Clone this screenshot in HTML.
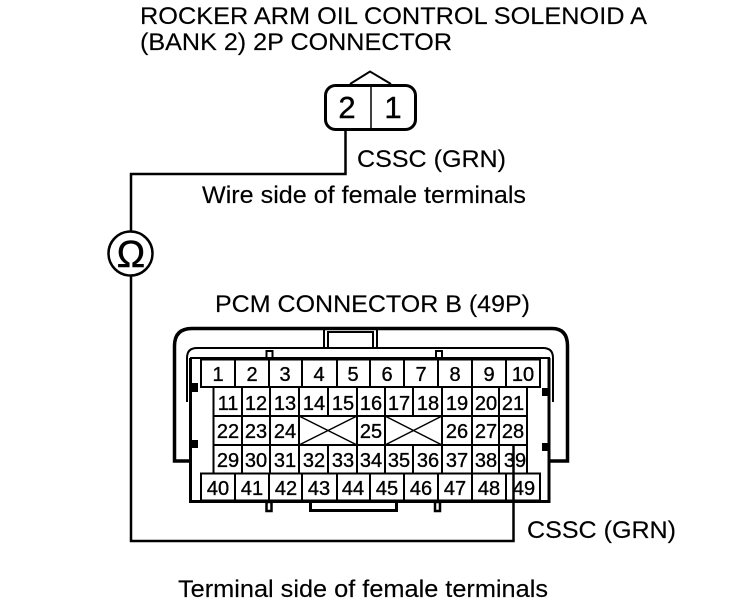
<!DOCTYPE html>
<html><head><meta charset="utf-8"><style>
html,body{margin:0;padding:0;background:#fff}
svg{display:block}
text{font-family:"Liberation Sans",sans-serif;fill:#000}
.t{font-size:24px;stroke:#000;stroke-width:.15px}
.n{font-size:20px;text-anchor:middle;stroke:#000;stroke-width:.35px}
</style></head><body>
<svg width="752" height="608" viewBox="0 0 752 608" xmlns="http://www.w3.org/2000/svg">
<text class="t" x="140" y="24" textLength="507" lengthAdjust="spacingAndGlyphs">ROCKER ARM OIL CONTROL SOLENOID A</text>
<text class="t" x="140" y="50" textLength="312" lengthAdjust="spacingAndGlyphs">(BANK 2) 2P CONNECTOR</text>
<text class="t" x="357" y="167" textLength="149" lengthAdjust="spacingAndGlyphs">CSSC (GRN)</text>
<text class="t" x="202" y="203" textLength="324" lengthAdjust="spacingAndGlyphs">Wire side of female terminals</text>
<text class="t" x="215" y="312" textLength="315" lengthAdjust="spacingAndGlyphs">PCM CONNECTOR B (49P)</text>
<text class="t" x="527" y="538" textLength="149" lengthAdjust="spacingAndGlyphs">CSSC (GRN)</text>
<text class="t" x="178" y="597" textLength="370" lengthAdjust="spacingAndGlyphs">Terminal side of female terminals</text>

<g fill="none" stroke="#000">
<rect x="325.500" y="85.500" width="90" height="44" rx="10" stroke-width="3"/>
<path d="M371 85V130" stroke-width="1.500"/>
<path d="M350 84L370 71.500L391 84" stroke-width="2"/>
<path d="M345.500 130V174H131V232M131 276V541H513.500V445" stroke-width="2.500"/>
<circle cx="130.500" cy="253.500" r="22" stroke-width="2.500"/>

<path d="M190 461H174.500V346Q174.500 328.500 192 328.500H552Q567.500 328.500 567.500 346V461H550" stroke-width="3.500"/>
<path d="M187 402V358Q187 348 197 348H543Q553 348 553 358V402" stroke-width="2"/>
<path d="M324 347V329M377 347V329M328 347V332H373V347" stroke-width="2"/>
<path d="M190.500 358V501.500H549V358" stroke-width="3"/>
<path d="M190 358H550" stroke-width="2"/>
<path d="M310.500 502V510.500H396.500V502" stroke-width="3"/>
<rect x="266.500" y="351" width="6" height="7" stroke-width="2"/>
<rect x="436" y="351" width="6" height="7" stroke-width="2"/>
<rect x="266.500" y="502" width="5" height="9" stroke-width="2.500"/>
<rect x="435" y="502" width="5" height="9" stroke-width="2.500"/>

<g stroke-width="2">
<path d="M201 359.500H540V387H201ZM201 473.500H540V500.500H201Z"/>
<path d="M235 359V387M269 359V387M302 359V387M337 359V387M370 359V387M404 359V387M438 359V387M472 359V387M506 359V387"/>
<path d="M235 473V501M269 473V501M302 473V501M337 473V501M370 473V501M404 473V501M438 473V501M472 473V501M506 473V501"/>
<path d="M213.500 387V473M527 387V473M213 416H527M213 445H527"/>
<path d="M242 387V473M270 387V473M299 387V473M328 387V416M328 445V473M357 387V473M385 387V473M413 387V416M413 445V473M442 387V473M472 387V473M499 387V473"/>
</g>
<path d="M299 416L357 445M357 416L299 445M385 416L442 445M442 416L385 445" stroke-width="1.500"/>
</g>
<g fill="#000">
<rect x="191" y="383" width="7" height="9"/>
<rect x="191" y="440" width="7" height="8"/>
<rect x="542" y="388" width="8" height="8"/>
<rect x="542" y="443" width="8" height="8"/>
</g>

<text x="131" y="267" style="font-size:38px;text-anchor:middle;stroke:#000;stroke-width:.5px">Ω</text>
<text x="347" y="118" style="font-size:31px;text-anchor:middle;stroke:#000;stroke-width:.4px">2</text>
<text x="393" y="118" style="font-size:31px;text-anchor:middle;stroke:#000;stroke-width:.4px">1</text>

<g class="labels">
<text class="n" x="218" y="381">1</text><text class="n" x="252" y="381">2</text><text class="n" x="285" y="381">3</text><text class="n" x="319" y="381">4</text><text class="n" x="353" y="381">5</text><text class="n" x="387" y="381">6</text><text class="n" x="421" y="381">7</text><text class="n" x="455" y="381">8</text><text class="n" x="489" y="381">9</text><text class="n" x="523" y="381">10</text>

<text class="n" x="228" y="410">11</text><text class="n" x="256" y="410">12</text><text class="n" x="285" y="410">13</text><text class="n" x="314" y="410">14</text><text class="n" x="343" y="410">15</text><text class="n" x="371" y="410">16</text><text class="n" x="399" y="410">17</text><text class="n" x="428" y="410">18</text><text class="n" x="457" y="410">19</text><text class="n" x="486" y="410">20</text><text class="n" x="513" y="410">21</text>

<text class="n" x="228" y="438">22</text><text class="n" x="256" y="438">23</text><text class="n" x="285" y="438">24</text><text class="n" x="371" y="438">25</text><text class="n" x="457" y="438">26</text><text class="n" x="486" y="438">27</text><text class="n" x="513" y="438">28</text>

<text class="n" x="228" y="467">29</text><text class="n" x="256" y="467">30</text><text class="n" x="285" y="467">31</text><text class="n" x="314" y="467">32</text><text class="n" x="343" y="467">33</text><text class="n" x="371" y="467">34</text><text class="n" x="399" y="467">35</text><text class="n" x="428" y="467">36</text><text class="n" x="457" y="467">37</text><text class="n" x="486" y="467">38</text><text class="n" x="515" y="467">39</text>

<text class="n" x="218" y="495">40</text><text class="n" x="252" y="495">41</text><text class="n" x="286" y="495">42</text><text class="n" x="319" y="495">43</text><text class="n" x="353" y="495">44</text><text class="n" x="387" y="495">45</text><text class="n" x="421" y="495">46</text><text class="n" x="455" y="495">47</text><text class="n" x="489" y="495">48</text><text class="n" x="524" y="495">49</text>
</g>
</svg>
</body></html>
